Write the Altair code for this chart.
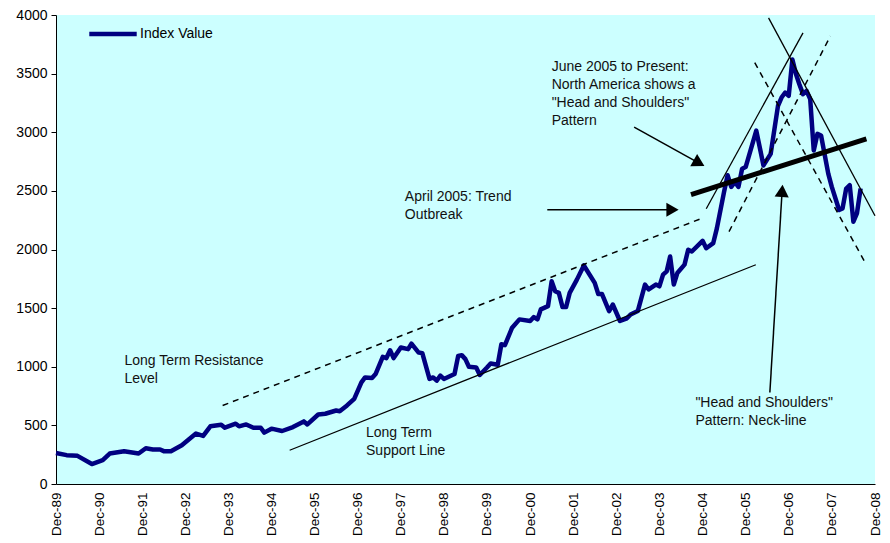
import altair as alt
import pandas as pd

FONT = "Liberation Sans"

# ---- Index series (month offsets from Dec-1989) ----
month_offsets = [0, 3, 6, 10, 13, 15, 19, 23, 25, 27,
                 29, 30, 32, 35, 39, 41, 43, 46, 47, 50,
                 51, 53, 55, 57, 58, 60, 63, 66, 69, 70,
                 73, 75, 78, 79, 81, 83, 85, 86, 88, 89,
                 91, 92, 93, 94, 96, 98, 99, 101, 102, 104,
                 105, 106, 107, 108, 111, 112, 113, 114, 115, 117,
                 118, 120, 121, 123, 124, 125, 127, 129, 132, 133,
                 134, 135, 137, 138, 139, 140, 141, 142, 143, 145,
                 147, 150, 151, 152, 154, 155, 157, 159, 160, 162,
                 164, 165, 167, 168, 169, 170, 171, 172, 173, 175,
                 176, 177, 180, 181, 183, 184, 186, 187, 188, 189,
                 190, 191, 192, 195, 197, 199, 201, 202, 203, 204,
                 205, 206, 207, 208, 209, 210, 211, 212, 213, 215,
                 216, 218, 219, 220, 221, 222, 223, 224]
index_values = [265, 246, 240, 170, 203, 260, 280, 260, 305, 294,
                294, 280, 280, 330, 430, 410, 492, 506, 480, 514,
                492, 508, 480, 480, 438, 472, 452, 486, 534, 508,
                593, 599, 627, 621, 670, 726, 867, 909, 904, 938,
                1085, 1074, 1141, 1074, 1164, 1150, 1197, 1121, 1116, 896,
                909, 881, 924, 896, 938, 1093, 1099, 1065, 1000, 994,
                930, 994, 1028, 1017, 1192, 1184, 1333, 1404, 1390, 1424,
                1404, 1489, 1517, 1729, 1644, 1630, 1509, 1509, 1630, 1743,
                1864, 1715, 1621, 1621, 1475, 1531, 1390, 1413, 1446, 1475,
                1701, 1659, 1701, 1686, 1786, 1814, 1941, 1701, 1799, 1871,
                1998, 1983, 2074, 2011, 2054, 2180, 2492, 2633, 2534, 2576,
                2534, 2689, 2703, 3014, 2717, 2816, 3226, 3296, 3339, 3311,
                3621, 3494, 3410, 3325, 3353, 3282, 2845, 2986, 2972, 2647,
                2534, 2337, 2350, 2520, 2548, 2237, 2308, 2520]
series_name = "Index Value"

# ---- Axis ticks ----
tick_years = list(range(1989, 2009))
y_ticks = list(range(0, 4001, 500))

# ---- Annotation lines (start date, start value, end date, end value) ----
thin_solid_lines = [
    ("1995-05-04", 288, "2006-02-25", 1870),
    ("2005-01-01", 2348, "2007-04-01", 3848),
    ("2006-06-13", 3975, "2008-12-01", 2288),
]
dashed_lines = [
    ("1993-10-13", 669, "2004-12-07", 2271),
    ("2005-07-13", 2153, "2007-11-19", 3820),
    ("2006-02-16", 3593, "2008-09-19", 1870),
]
neck_line = [("2004-08-25", 2469, "2008-09-19", 2943)]
arrow_shafts = [
    ("2001-04-25", 2339, "2004-03-21", 2339),
    ("2003-05-01", 3043, "2004-11-01", 2737),
    ("2006-06-24", 780, "2006-10-06", 2500),
]
arrow_heads = [("2004-03-21", 2339, 90), ("2004-11-01", 2737, 119), ("2006-10-06", 2500, 4)]

# ---- Text annotations ----
notes = [
    ("2001-06-01", 3523, 'June 2005 to Present:\nNorth America shows a\n"Head and Shoulders"\nPattern'),
    ("1998-01-04", 2415, "April 2005: Trend\nOutbreak"),
    ("1991-07-04", 1017, "Long Term Resistance\nLevel"),
    ("1997-02-09", 401, "Long Term\nSupport Line"),
    ("2004-10-01", 655, '"Head and Shoulders"\nPattern: Neck-line'),
]

base = pd.Timestamp("1989-12-01")
df = pd.DataFrame({
    "date": [(base + pd.DateOffset(months=m)).strftime("%Y-%m-%d") for m in month_offsets],
    "value": index_values,
    "series": series_name,
})


def seg_df(rows):
    return pd.DataFrame(rows, columns=["x1", "y1", "x2", "y2"])


x_scale = alt.Scale(domain=[alt.DateTime(year=1989, month=12, date=1),
                            alt.DateTime(year=2008, month=12, date=1)])
y_scale = alt.Scale(domain=[0, 4000], nice=False)
x_axis = alt.Axis(values=[alt.DateTime(year=y, month=12, date=1) for y in tick_years],
                  format="%b-%y", labelAngle=-90, ticks=False, labelPadding=8,
                  grid=False, domainColor="black", labelColor="black",
                  labelFontSize=13.5, labelFont=FONT, labelOverlap=False)
y_axis = alt.Axis(values=y_ticks, format="d", grid=False, tickSize=5, labelPadding=4,
                  domainColor="black", tickColor="black", labelColor="black",
                  labelFontSize=14, labelFont=FONT)


def X(field):
    return alt.X(field, type="temporal", scale=x_scale, axis=x_axis, title=None)


def Y(field):
    return alt.Y(field, type="quantitative", scale=y_scale, axis=y_axis, title=None)


main_line = alt.Chart(df).mark_line(strokeWidth=4.5, strokeJoin="round").encode(
    x=X("date"),
    y=Y("value"),
    color=alt.Color("series:N", scale=alt.Scale(range=["#000080"]),
                    legend=alt.Legend(orient="none", legendX=31, legendY=-7,
                                      title=None, symbolType="stroke", symbolSize=2250,
                                      symbolStrokeWidth=4.5, labelFontSize=14,
                                      labelFont=FONT, labelColor="black",
                                      labelOffset=1, padding=0)),
)

thin = alt.Chart(seg_df(thin_solid_lines)).mark_rule(color="black", strokeWidth=1.3).encode(
    x=X("x1"), x2="x2:T", y=Y("y1"), y2="y2:Q")
dashed = alt.Chart(seg_df(dashed_lines)).mark_rule(color="black", strokeWidth=1.5,
                                                   strokeDash=[6, 5]).encode(
    x=X("x1"), x2="x2:T", y=Y("y1"), y2="y2:Q")
neck = alt.Chart(seg_df(neck_line)).mark_rule(color="black", strokeWidth=5).encode(
    x=X("x1"), x2="x2:T", y=Y("y1"), y2="y2:Q")
shafts = alt.Chart(seg_df(arrow_shafts)).mark_rule(color="black", strokeWidth=1.5).encode(
    x=X("x1"), x2="x2:T", y=Y("y1"), y2="y2:Q")
heads = alt.Chart(pd.DataFrame(arrow_heads, columns=["x", "y", "angle"])).mark_point(
    shape="triangle-up", filled=True, size=200, color="black", opacity=1).encode(
    x=X("x"), y=Y("y"), angle=alt.Angle("angle:Q", scale=None))
texts = alt.Chart(pd.DataFrame(notes, columns=["x", "y", "label"])).mark_text(
    align="left", baseline="alphabetic", lineBreak="\n", lineHeight=18,
    fontSize=14, font=FONT, color="#111111").encode(
    x=X("x"), y=Y("y"), text="label:N")

chart = alt.layer(main_line, texts, dashed, thin, neck, shafts, heads).properties(
    width=819, height=469,
    padding={"left": 48, "top": 7, "right": 7, "bottom": 51},
    autosize=alt.AutoSizeParams(type="none"),
    background="white",
).configure(font=FONT).configure_view(fill="#CCFFFF", stroke=None)

chart.save("out.html", embed_options={"renderer": "svg", "actions": False})
